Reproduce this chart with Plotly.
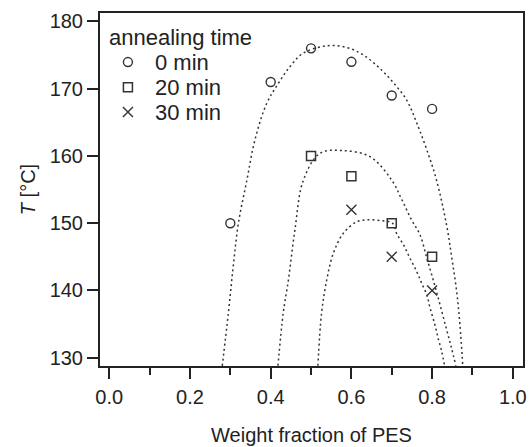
import plotly.graph_objects as go

# Measured cloud points (weight fraction of PES, temperature in °C)
x_0min = [0.3, 0.4, 0.5, 0.6, 0.7, 0.8]
t_0min = [150, 171, 176, 174, 169, 167]

x_20min = [0.5, 0.6, 0.7, 0.8]
t_20min = [160, 157, 150, 145]

x_30min = [0.6, 0.7, 0.8]
t_30min = [152, 145, 140]

# Guide curves (binodal estimates) for each annealing time
curve_0min_x = [0.280, 0.295, 0.307, 0.320, 0.341, 0.361, 0.390, 0.419, 0.448,
                0.481, 0.542, 0.590, 0.630, 0.671, 0.704, 0.737, 0.762, 0.787,
                0.811, 0.836, 0.849, 0.861, 0.869, 0.876]
curve_0min_t = [128.8, 136.6, 143.5, 150.0, 156.4, 162.4, 167.8, 170.8, 173.3,
                175.3, 176.4, 176.1, 175.0, 173.0, 170.9, 168.3, 164.9, 160.9,
                156.4, 149.7, 144.8, 139.8, 134.9, 128.8]

curve_20min_x = [0.418, 0.431, 0.444, 0.460, 0.481, 0.522, 0.577, 0.646, 0.700,
                 0.725, 0.749, 0.770, 0.787, 0.805, 0.820, 0.835, 0.847, 0.859]
curve_20min_t = [128.8, 136.6, 141.6, 149.0, 156.4, 160.4, 160.8, 159.9, 156.4,
                 153.5, 150.5, 148.3, 144.8, 141.1, 137.8, 134.4, 131.7, 128.8]

curve_30min_x = [0.517, 0.526, 0.539, 0.555, 0.580, 0.613, 0.641, 0.671, 0.702,
                 0.712, 0.729, 0.745, 0.762, 0.774, 0.787, 0.795, 0.807, 0.815,
                 0.824, 0.831]
curve_30min_t = [128.8, 136.6, 141.6, 145.5, 148.5, 150.2, 150.5, 150.4, 150.0,
                 148.5, 146.8, 144.8, 142.8, 141.1, 139.3, 137.4, 134.9, 132.9,
                 130.9, 128.8]

x_ticks = [0.0, 0.2, 0.4, 0.6, 0.8, 1.0]
t_ticks = [130, 140, 150, 160, 170, 180]

legend_title = "annealing time"
legend_labels = ["0 min", "20 min", "30 min"]

ink = "#333333"
axis_ink = "#222222"
font_family = "Liberation Sans, Arial, sans-serif"

markers = [
    dict(symbol="circle-open", size=9, color=ink, line=dict(width=1.4, color=ink)),
    dict(symbol="square-open", size=9, color=ink, line=dict(width=1.5, color=ink)),
    dict(symbol="x-thin-open", size=10, color=ink, line=dict(width=1.4, color=ink)),
]

fig = go.Figure()

for cx, ct in [(curve_0min_x, curve_0min_t),
               (curve_20min_x, curve_20min_t),
               (curve_30min_x, curve_30min_t)]:
    fig.add_trace(go.Scatter(
        x=cx, y=ct, mode="lines", showlegend=False, hoverinfo="skip",
        line=dict(color=ink, width=1.5, dash="2px,3px", shape="spline", smoothing=1.0),
    ))

for xs, ts, label, mk in zip([x_0min, x_20min, x_30min],
                             [t_0min, t_20min, t_30min],
                             legend_labels, markers):
    fig.add_trace(go.Scatter(x=xs, y=ts, mode="markers", name=label,
                             marker=mk, showlegend=False))

# Legend block drawn inside the plot area on an overlay axis spanning [0, 1]
key_x = 0.066          # symbol column (fraction of plot width)
text_x = 0.125         # label column
row_y = [0.861, 0.790, 0.7195]
for y, label, mk in zip(row_y, legend_labels, markers):
    fig.add_trace(go.Scatter(x=[key_x], y=[y], mode="markers", marker=mk,
                             xaxis="x2", yaxis="y2", showlegend=False,
                             hoverinfo="skip"))
    fig.add_annotation(x=text_x, y=y, xref="x2", yref="y2", text=label,
                       showarrow=False, xanchor="left", yanchor="middle",
                       font=dict(family=font_family, size=22, color=axis_ink))
fig.add_annotation(x=0.016, y=0.932, xref="x2", yref="y2", text=legend_title,
                   showarrow=False, xanchor="left", yanchor="middle",
                   font=dict(family=font_family, size=22, color=axis_ink))

axis_common = dict(
    showline=True, linecolor=axis_ink, linewidth=2, mirror=True,
    showgrid=False, zeroline=False, automargin=False,
    ticks="outside", tickwidth=2, ticklen=11, tickcolor=axis_ink,
    tickfont=dict(family=font_family, size=20, color=axis_ink),
)

fig.update_layout(
    width=531, height=447,
    margin=dict(l=100, r=8, t=13, b=81),
    paper_bgcolor="white", plot_bgcolor="white",
    font=dict(family=font_family, size=20, color=axis_ink),
    xaxis=dict(
        **axis_common,
        range=[-0.023, 1.0253],
        tickvals=x_ticks, ticktext=[f"{v:.1f}" for v in x_ticks],
        ticklabelstandoff=1,
        minor=dict(ticks="outside", ticklen=7, tickwidth=2, tickcolor=axis_ink,
                   dtick=0.1, tick0=0, showgrid=False),
        title=dict(text="Weight fraction of PES", standoff=21,
                   font=dict(family=font_family, size=20, color=axis_ink)),
    ),
    yaxis=dict(
        **axis_common,
        range=[128.77, 181.26],
        tickvals=t_ticks,
        title=dict(text="<i>T</i> [°C]", standoff=9,
                   font=dict(family=font_family, size=20, color=axis_ink)),
    ),
    xaxis2=dict(overlaying="x", range=[0, 1], visible=False, fixedrange=True),
    yaxis2=dict(overlaying="y", range=[0, 1], visible=False, fixedrange=True),
    showlegend=False,
)

fig.write_html("out.html")
